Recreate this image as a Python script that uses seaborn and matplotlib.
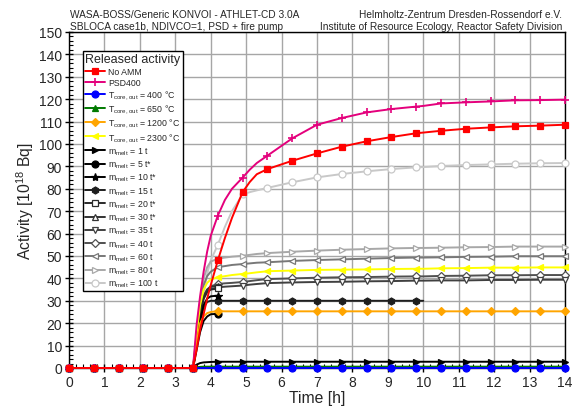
import numpy as np
import matplotlib
matplotlib.use("Agg")
import matplotlib.pyplot as plt
import seaborn as sns
from matplotlib.ticker import MultipleLocator

# ---- data: released activity [1e18 Bq] over time [h] ----
time_h = [0.0, 0.7, 1.4, 2.1, 2.8, 3.5, 3.6, 3.7, 3.8, 3.9, 4.0, 4.2, 4.4, 4.6, 4.9,
          5.1, 5.3, 5.6, 6.3, 7.0, 7.7, 8.4, 9.1, 9.8, 10.0, 10.5, 11.2, 11.9, 12.6, 13.3, 14.0]
nan = np.nan

no_amm = [0, 0, 0, 0, 0, 0, 8, 17, 24, 31, 37, 48, 58, 67, 78.5,
          83, 86.5, 88.8, 92.5, 95.8, 98.8, 101.2, 103.1, 104.8, 105.1, 105.9, 106.8, 107.4, 107.9, 108.2, 108.6]
psd400 = [0, 0, 0, 0, 0, 0, 19, 32, 43, 52, 59, 68, 75, 80, 85,
          88.5, 91.5, 94.8, 102.5, 108.6, 111.6, 114.1, 115.6, 116.7, 117.0, 118.1, 118.6, 119.0, 119.5, 119.6, 119.8]
t_400 = [0, 0, 0, 0, 0, 0, 0, 0, 0, 0, 0, 0, 0, 0, 0,
         0, 0, 0, 0, 0, 0, 0, 0, 0, 0, 0, 0, 0, 0, 0, 0]
t_650 = [0, 0, 0, 0, 0, 0, 0.3, 0.5, 0.6, 0.6, 0.6, 0.6, 0.6, 0.6, 0.6,
         0.6, 0.6, 0.6, 0.6, 0.6, 0.6, 0.6, 0.6, 0.6, 0.6, 0.6, 0.6, 0.6, 0.6, 0.6, 0.6]
t_1200 = [0, 0, 0, 0, 0, 0, 11, 20, 23, 24.5, 25, 25.4, 25.3, 25.3, 25.3,
          25.3, 25.3, 25.3, 25.3, 25.3, 25.3, 25.3, 25.3, 25.3, 25.3, 25.3, 25.3, 25.3, 25.3, 25.3, 25.3]
t_2300 = [0, 0, 0, 0, 0, 0, 15, 28, 35, 38, 39.5, 40.5, 41, 41.5, 42,
          42.3, 42.7, 43.2, 43.5, 43.8, 43.9, 44.0, 44.2, 44.3, 44.3, 44.5, 44.6, 44.8, 44.8, 44.9, 44.9]
m_1 = [0, 0, 0, 0, 0, 0, 1.5, 2.2, 2.5, 2.6, 2.7, 2.8, 2.8, 2.8, 2.8,
       2.8, 2.8, 2.8, 2.8, 2.8, 2.8, 2.8, 2.8, 2.8, 2.8, 2.8, 2.8, 2.8, 2.8, 2.8, 2.8]
m_5 = [0, 0, 0, 0, 0, 0, 8, 16, 21, 23, 24, 24.2, nan, nan, nan,
       nan, nan, nan, nan, nan, nan, nan, nan, nan, nan, nan, nan, nan, nan, nan, nan]
m_10 = [0, 0, 0, 0, 0, 0, 10, 21, 28, 31, 32, 32.3, nan, nan, nan,
        nan, nan, nan, nan, nan, nan, nan, nan, nan, nan, nan, nan, nan, nan, nan, nan]
m_15 = [0, 0, 0, 0, 0, 0, 10, 20, 27, 29.5, 30, 30, 30, 30, 30,
        30, 30, 30, 30, 30, 30, 30, 30, 30, 30, nan, nan, nan, nan, nan, nan]
m_20 = [0, 0, 0, 0, 0, 0, 12, 24, 31, 34, 35, 35.5, nan, nan, nan,
        nan, nan, nan, nan, nan, nan, nan, nan, nan, nan, nan, nan, nan, nan, nan, nan]
m_30 = [0, 0, 0, 0, 0, 0, 12, 25, 32, 35, 36.2, 36.7, nan, nan, nan,
        nan, nan, nan, nan, nan, nan, nan, nan, nan, nan, nan, nan, nan, nan, nan, nan]
m_35 = [0, 0, 0, 0, 0, 0, 11, 24, 31, 34, 35.2, 36.0, 36.3, 36.5, 36.8,
        37.2, 37.5, 37.9, 38.2, 38.4, 38.5, 38.7, 38.8, 39.0, 39.0, 39.1, 39.1, 39.3, 39.3, 39.4, 39.4]
m_40 = [0, 0, 0, 0, 0, 0, 12, 25, 32, 35, 36.5, 37.5, 37.8, 38.0, 38.4,
        38.8, 39.2, 39.7, 40.0, 40.3, 40.5, 40.6, 40.8, 40.9, 40.9, 41.1, 41.2, 41.4, 41.4, 41.5, 41.5]
m_60 = [0, 0, 0, 0, 0, 0, 14, 28, 37, 41, 43, 45, 45.5, 46, 46.4,
        46.7, 47.0, 47.2, 47.8, 48.2, 48.5, 48.8, 49.1, 49.3, 49.3, 49.4, 49.6, 49.7, 49.9, 49.9, 49.9]
m_80 = [0, 0, 0, 0, 0, 0, 15, 30, 40, 45, 47.5, 48.8, 49.3, 49.7, 50.1,
        50.5, 50.9, 51.3, 51.9, 52.4, 52.8, 53.1, 53.4, 53.6, 53.6, 53.7, 53.9, 54.0, 54.2, 54.2, 54.2]
m_100 = [0, 0, 0, 0, 0, 0, 10, 22, 33, 42, 48, 55, 63, 70, 77.5,
         78.5, 79.3, 80.4, 82.9, 85.1, 86.6, 87.8, 88.8, 89.6, 89.7, 90.2, 90.6, 90.9, 91.2, 91.4, 91.5]

TC = r"T$_{\mathregular{core,out}}$"
MM = r"m$_{\mathregular{melt}}$"
labels = ["No AMM", "PSD400",
          f"{TC} = 400 °C", f"{TC} = 650 °C", f"{TC} = 1200 °C", f"{TC} = 2300 °C",
          f"{MM} = 1 t", f"{MM} = 5 t*", f"{MM} = 10 t*", f"{MM} = 15 t", f"{MM} = 20 t*",
          f"{MM} = 30 t*", f"{MM} = 35 t", f"{MM} = 40 t", f"{MM} = 60 t", f"{MM} = 80 t", f"{MM} = 100 t"]
series = [no_amm, psd400, t_400, t_650, t_1200, t_2300, m_1, m_5, m_10, m_15, m_20,
          m_30, m_35, m_40, m_60, m_80, m_100]

# (line colour, marker, marker size, face colour)
styles = [
    ("#ff0000", "s", 4.6, "#ff0000"),
    ("#e4007c", "+", 6, "#e4007c"),
    ("#0000ff", "o", 5, "#0000ff"),
    ("#007a00", "^", 5, "#007a00"),
    ("#ffa500", "D", 4.2, "#ffa500"),
    ("#ffff00", "<", 5, "#ffff00"),
    ("#000000", ">", 5, "#000000"),
    ("#000000", "o", 5, "#000000"),
    ("#000000", "*", 6, "#000000"),
    ("#1e1e1e", "h", 5, "#1e1e1e"),
    ("#2a2a2a", "s", 4.4, "white"),
    ("#333333", "^", 5, "white"),
    ("#404040", "v", 5, "white"),
    ("#505050", "D", 4.4, "white"),
    ("#787878", "<", 5, "white"),
    ("#a8a8a8", ">", 5, "white"),
    ("#c8c8c8", "o", 5, "white"),
]

sns.set_theme(style="ticks")
plt.rcParams["font.family"] = ["Liberation Sans", "DejaVu Sans"]
plt.rcParams["mathtext.fontset"] = "custom"
plt.rcParams["mathtext.rm"] = "Liberation Sans"
plt.rcParams["mathtext.default"] = "regular"

fig = plt.figure(figsize=(5.74, 4.10), dpi=100)
ax = fig.add_axes([69 / 574, 41 / 410, 496 / 574, 336 / 410])

t_arr = np.array(time_h)
handles = [None] * len(series)
# draw in reverse so the first legend entries sit on top
for i in reversed(range(len(series))):
    y = np.array(series[i], dtype=float)
    ok = ~np.isnan(y)
    tx, yy = t_arr[ok], y[ok]
    ratio = tx / 0.7
    mark_idx = list(np.where(np.isclose(ratio, np.round(ratio)))[0])
    col, mk, ms, fc = styles[i]
    sns.lineplot(x=tx, y=yy, ax=ax, color=col, marker=mk, markersize=ms,
                 markerfacecolor=fc, markeredgecolor=col,
                 markeredgewidth=1.2 if mk == "+" else 0.9,
                 markevery=mark_idx, linewidth=1.4, estimator=None, sort=False,
                 zorder=3 + (len(series) - i) * 0.01, clip_on=False)
    handles[i] = ax.lines[-1]

ax.set_xlim(0, 14)
ax.set_ylim(0, 150)
ax.xaxis.set_major_locator(MultipleLocator(1))
ax.xaxis.set_minor_locator(MultipleLocator(0.2))
ax.yaxis.set_major_locator(MultipleLocator(10))
ax.yaxis.set_minor_locator(MultipleLocator(2))
ax.tick_params(axis="both", which="major", direction="inout", length=6, width=1,
               labelsize=10, color="black", pad=2)
ax.tick_params(axis="both", which="minor", direction="in", length=3, width=0.8, color="black")
ax.grid(True, which="major", color="#a6a6a6", linewidth=1.0, zorder=0)
ax.set_axisbelow(True)
for sp in ax.spines.values():
    sp.set_visible(True)
    sp.set_color("black")
    sp.set_linewidth(1.0)

ax.set_xlabel("Time [h]", fontsize=11.3, labelpad=1)
ax.set_ylabel(r"Activity [10$^{18}$ Bq]", fontsize=11.3, labelpad=2)

leg = ax.legend(handles, labels, title="Released activity", loc="upper left",
                bbox_to_anchor=(0.028, 0.943), fontsize=6.3, title_fontsize=9,
                frameon=True, fancybox=False, edgecolor="black", framealpha=1,
                handlelength=2.3, handletextpad=0.4, borderpad=0.22,
                labelspacing=0.2, borderaxespad=0)
leg.get_frame().set_linewidth(1.0)
leg._legend_box.align = "left"
leg.set_zorder(10)

fig.text(70 / 574, 1 - 15 / 410, "WASA-BOSS/Generic KONVOI - ATHLET-CD 3.0A",
         fontsize=7.25, ha="left", va="center")
fig.text(70 / 574, 1 - 27 / 410, "SBLOCA case1b, NDIVCO=1, PSD + fire pump",
         fontsize=7.25, ha="left", va="center")
fig.text(562 / 574, 1 - 15 / 410, "Helmholtz-Zentrum Dresden-Rossendorf e.V.",
         fontsize=7.25, ha="right", va="center")
fig.text(562 / 574, 1 - 27 / 410, "Institute of Resource Ecology, Reactor Safety Division",
         fontsize=7.25, ha="right", va="center")

fig.savefig("out.png", dpi=100)
